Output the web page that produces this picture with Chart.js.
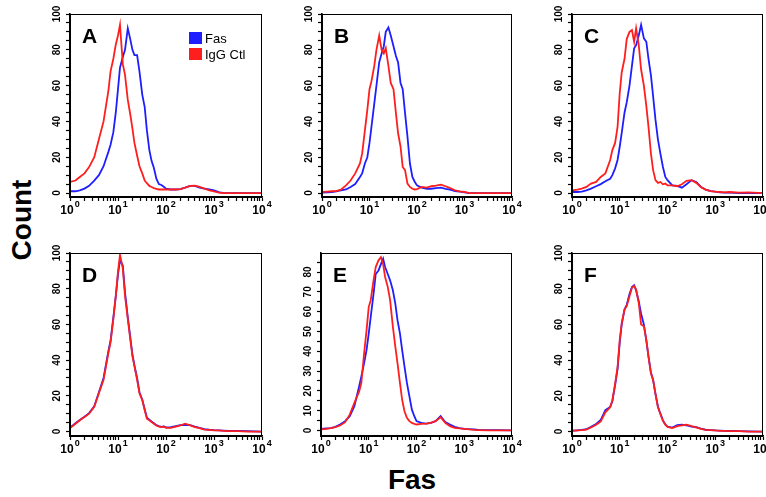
<!DOCTYPE html>
<html>
<head>
<meta charset="utf-8">
<script src="https://cdn.jsdelivr.net/npm/chart.js@4.4.0/dist/chart.umd.min.js"></script>
<style>
  html, body { margin: 0; padding: 0; background: #fff; width: 766px; height: 497px; overflow: hidden; }
  body { position: relative; font-family: "Liberation Sans", Arial, sans-serif; }
  canvas { position: absolute; }
  .axis-title { position: absolute; font-weight: bold; font-size: 28px; color: #000; white-space: nowrap; }
</style>
</head>
<body>
<div class="axis-title" style="left:22px;top:220px;transform:translate(-50%,-50%) rotate(-90deg);">Count</div>
<div class="axis-title" style="left:412px;top:480px;transform:translate(-50%,-50%);">Fas</div>
<script>
// fluorescence channels (x) shared by every histogram
const channels = [1, 1.3, 1.6, 2, 2.5, 3.2, 4, 5, 6.3, 7, 8, 9, 10, 11, 12.6, 14, 16, 18, 20, 22, 25, 28, 32, 36, 40, 45, 50, 56, 63, 71, 80, 90, 100, 126, 160, 200, 250, 320, 400, 500, 630, 800, 1000, 1260, 1600, 2000, 3200, 5000, 10000];

const fasA = [1, 1, 1.5, 2.5, 4, 7, 10, 15, 23, 27, 34, 45, 58, 70, 76, 80, 92, 86, 80, 77, 77, 68, 55, 48, 35, 24, 18, 14, 8, 5, 4.5, 3.5, 2.5, 2, 2, 2.2, 3, 4, 4, 3, 2.5, 2, 1.5, 0.5, 0, 0, 0, 0, 0];
const ctlA = [6.2, 7, 9, 11, 14.5, 20, 30, 40, 57, 68, 75, 83, 88, 94, 72, 66, 52, 44, 36, 28, 21, 15, 11, 7, 5.5, 4, 3.4, 2.8, 2.4, 2, 2, 2, 2, 2, 2, 2.2, 3, 4, 4.2, 3.4, 2.5, 1.5, 1, 0.3, 0, 0, 0, 0, 0];

const fasB = [0.2, 0.4, 0.6, 1, 1.5, 2, 3.4, 5, 9, 11, 16.5, 20, 28, 37, 50, 60, 73, 78, 82, 90, 92.5, 88, 82, 76.5, 73, 61.5, 58, 44.6, 31.5, 16.5, 9, 6.2, 4.3, 3, 2.4, 2.4, 2.8, 3, 2.4, 1.9, 1.1, 0.8, 0.4, 0, 0, 0, 0, 0, 0];
const ctlB = [0.6, 0.8, 1, 1.1, 1.9, 4.3, 7, 11, 16.5, 22, 35, 46.5, 58, 62.5, 71, 80, 88, 80, 78, 81, 71, 61.5, 58, 44.6, 33.4, 26, 14.6, 12.8, 5.3, 3.4, 2.4, 2, 2.2, 3.4, 3, 3.8, 4.1, 4.7, 3.8, 2.8, 1.5, 1, 0.6, 0, 0, 0, 0, 0, 0];

const fasC = [0.6, 0.6, 0.8, 1.5, 2.5, 3.8, 5, 6.6, 8, 10, 13.8, 18.5, 26, 33.6, 45, 50.6, 60, 71, 80.8, 82.6, 88, 94, 86.4, 84.5, 75, 65.7, 54, 41, 30, 22, 14.7, 9, 7.2, 4.3, 4, 3, 4.9, 7.2, 6.2, 3.4, 1.9, 1.1, 0.8, 0.4, 0.2, 0.2, 0, 0, 0];
const ctlC = [1.5, 1.9, 2.5, 3.4, 5.3, 6.2, 9, 11, 18.5, 24, 28, 37, 56, 67.5, 75, 86, 90, 91, 84.5, 92, 82.6, 69, 60, 48.7, 37, 22, 12.8, 7.2, 5.7, 6.2, 4.9, 5.3, 4.3, 4.3, 3.8, 4.9, 6.8, 7.2, 5.7, 3.4, 1.9, 1.1, 0.8, 0.6, 0.4, 0.6, 0.2, 0.4, 0];

const fasD = [2.2, 4.6, 6.5, 8.3, 10.3, 14.2, 22, 30, 45, 51, 64, 76, 88, 96, 93, 78, 64, 53, 43, 37, 30, 22, 18, 12.5, 7.8, 6.6, 5.6, 4.6, 3.6, 3, 2.6, 2.8, 2.3, 2.4, 3, 3.6, 3.8, 3.6, 2.8, 2.1, 1.3, 1, 0.8, 0.7, 0.5, 0.3, 0.3, 0.2, 0];
const ctlD = [1.9, 4.4, 6.3, 8.1, 10, 13.8, 21.4, 29, 44, 50, 63, 76, 89.6, 99, 91.3, 76, 63, 51.7, 42.2, 36.6, 29, 21.4, 17.6, 11.9, 7.2, 6.3, 5.3, 4.4, 3.4, 2.8, 2.5, 2.8, 2.1, 2.1, 2.8, 3.4, 4.4, 3.4, 2.5, 1.9, 1.1, 0.9, 0.6, 0.6, 0.4, 0.2, 0.2, 0, 0];

const fasE = [0.8, 1, 1.2, 1.8, 3, 4.7, 7.2, 12.2, 22.3, 27.3, 34, 40.7, 49, 57.4, 69, 79, 80.8, 84, 86.7, 82.5, 79, 75.8, 70.8, 64, 55.7, 49, 40.7, 32.3, 24, 17.2, 10.5, 7.2, 4.7, 3.8, 3.5, 3.8, 4.7, 7.2, 4.2, 3, 1.8, 1.2, 0.8, 0.7, 0.5, 0.3, 0.2, 0.2, 0];
const ctlE = [0.5, 0.8, 1.2, 1.7, 2.5, 4.2, 8, 13.9, 19.7, 24, 39, 50.7, 62.4, 65.8, 75.8, 82.5, 85.9, 87.5, 84, 77.5, 72.5, 65.8, 52.4, 42.3, 34, 24, 15.6, 9.7, 6.4, 4.7, 3.8, 3.3, 3, 3.3, 3.5, 3.8, 4.7, 6.7, 3.8, 2.2, 1.3, 1, 0.8, 0.5, 0.3, 0.2, 0, 0, 0];

const fasF = [0.5, 0.7, 0.9, 1.3, 2.6, 4.2, 6.5, 12, 13.8, 17, 26, 35, 50, 60, 68.5, 71, 77, 81, 82, 79, 73, 66, 60, 51, 42, 33, 29, 21, 14, 10, 6.4, 4, 2.8, 2.2, 3.6, 3.8, 3.4, 2.8, 2.4, 1.6, 1, 0.8, 0.6, 0.5, 0.4, 0.3, 0.2, 0.1, 0];
const ctlF = [0.4, 0.6, 0.8, 1.1, 2.3, 3.8, 5.7, 10.8, 13.6, 17.4, 26.8, 36.2, 51.3, 60.8, 68.3, 70.2, 75.8, 80.6, 81.5, 79.6, 72, 60, 59, 51.3, 41.9, 32.5, 28.7, 21.1, 13.6, 9.8, 6, 3.8, 2.6, 1.9, 3, 3.4, 3.8, 3, 2.3, 1.5, 0.9, 0.8, 0.6, 0.4, 0.4, 0.2, 0.2, 0, 0];

// tick labels
const decadePowers = [0, 1, 2, 3, 4];
const yLabels100 = [0, 20, 40, 60, 80, 100];
const yLabels90 = [0, 10, 20, 30, 40, 50, 60, 70, 80];
const seriesNames = ['Fas', 'IgG Ctl'];

const BLUE = '#1e1eff';
const RED = '#ff1e1e';
const FONT = '"Liberation Sans", Arial, sans-serif';

// minor ticks on the log axis: 1..9 in every decade
const xTickValues = [];
for (let p = 0; p < 4; p++) {
  for (let m = 1; m < 10; m++) xTickValues.push(m * Math.pow(10, p));
}
xTickValues.push(10000);

// plot area of each panel: left, top, right, bottom
const panels = [
  { letter: 'A', fas: fasA, ctl: ctlA, box: [70, 14, 262, 197], yMin: -2.2, yMax: 100, labels: yLabels100, legend: true },
  { letter: 'B', fas: fasB, ctl: ctlB, box: [322, 14, 512, 197], yMin: -2.2, yMax: 100, labels: yLabels100 },
  { letter: 'C', fas: fasC, ctl: ctlC, box: [572, 14, 763, 197], yMin: -2.2, yMax: 100, labels: yLabels100 },
  { letter: 'D', fas: fasD, ctl: ctlD, box: [70, 253, 262, 436], yMin: -2.5, yMax: 100, labels: yLabels100 },
  { letter: 'E', fas: fasE, ctl: ctlE, box: [321, 253, 512, 436], yMin: -2.8, yMax: 89.6, labels: yLabels90 },
  { letter: 'F', fas: fasF, ctl: ctlF, box: [572, 253, 763, 436], yMin: -2.5, yMax: 100, labels: yLabels100 }
];

const decorPlugin = {
  id: 'decor',
  afterDraw(chart, args, opts) {
    const { ctx, chartArea: a, scales } = chart;
    ctx.save();
    ctx.strokeStyle = '#000';
    ctx.lineWidth = 1;
    ctx.strokeRect(a.left + 0.5, a.top + 0.5, a.right - a.left - 1, a.bottom - a.top);
    ctx.fillStyle = '#000';

    // x tick labels 10^n
    decadePowers.forEach(p => {
      const x = scales.x.getPixelForValue(Math.pow(10, p));
      ctx.font = 'bold 12px ' + FONT;
      const w1 = ctx.measureText('10').width;
      ctx.font = 'bold 9px ' + FONT;
      const w2 = ctx.measureText(String(p)).width;
      const x0 = x - (w1 + w2 + 1) / 2;
      ctx.textAlign = 'left';
      ctx.textBaseline = 'alphabetic';
      ctx.font = 'bold 12px ' + FONT;
      ctx.fillText('10', x0, a.bottom + 17);
      ctx.font = 'bold 9px ' + FONT;
      ctx.fillText(String(p), x0 + w1 + 1, a.bottom + 10);
    });

    // y tick labels, rotated
    ctx.font = 'bold 10px ' + FONT;
    ctx.textAlign = 'center';
    ctx.textBaseline = 'middle';
    opts.labels.forEach(v => {
      const y = scales.y.getPixelForValue(v);
      ctx.save();
      ctx.translate(a.left - 13, y);
      ctx.rotate(-Math.PI / 2);
      ctx.fillText(String(v), 0, 0);
      ctx.restore();
    });

    // panel letter
    ctx.textAlign = 'left';
    ctx.textBaseline = 'alphabetic';
    ctx.font = 'bold 21px ' + FONT;
    ctx.fillText(opts.letter, a.left + 12, a.top + 29);

    if (opts.legend) {
      const colors = [BLUE, RED];
      ctx.font = '13px ' + FONT;
      seriesNames.forEach((name, i) => {
        const top = a.top + 18 + i * 16;
        ctx.fillStyle = colors[i];
        ctx.fillRect(a.left + 119, top, 13, 12);
        ctx.fillStyle = '#000';
        ctx.fillText(name, a.left + 135, top + 11);
      });
    }
    ctx.restore();
  }
};

panels.forEach(p => {
  const [l, t, r, b] = p.box;
  const canvas = document.createElement('canvas');
  const padRight = 12;
  const w = r - l + 30 + padRight;
  const h = b - t + 8 + 22;
  canvas.width = w;
  canvas.height = h;
  canvas.style.left = (l - 30) + 'px';
  canvas.style.top = (t - 8) + 'px';
  canvas.style.width = w + 'px';
  canvas.style.height = h + 'px';
  document.body.appendChild(canvas);

  const yTicks = [];
  for (let v = 0; v <= p.yMax; v += 5) yTicks.push(v);

  new Chart(canvas.getContext('2d'), {
    type: 'line',
    data: {
      datasets: [
        {
          label: seriesNames[1],
          data: channels.map((x, i) => ({ x: x, y: p.ctl[i] })),
          borderColor: RED,
          borderWidth: 1.8,
          order: 0
        },
        {
          label: seriesNames[0],
          data: channels.map((x, i) => ({ x: x, y: p.fas[i] })),
          borderColor: BLUE,
          borderWidth: 1.8,
          order: 1
        }
      ]
    },
    options: {
      responsive: false,
      animation: false,
      devicePixelRatio: 1,
      layout: { padding: { top: 8, right: padRight, left: 0, bottom: 0 } },
      elements: { point: { radius: 0 }, line: { tension: 0, fill: false } },
      plugins: {
        legend: { display: false },
        tooltip: { enabled: false },
        decor: { letter: p.letter, labels: p.labels, legend: !!p.legend }
      },
      scales: {
        x: {
          type: 'logarithmic',
          min: 1,
          max: 10000,
          afterBuildTicks: s => { s.ticks = xTickValues.map(v => ({ value: v })); },
          afterFit: s => { s.height = 22; },
          ticks: { display: false },
          grid: { drawOnChartArea: false, drawTicks: true, tickLength: 4, tickColor: '#000', tickWidth: 1.2 },
          border: { display: true, color: '#000', width: 1.6 }
        },
        y: {
          type: 'linear',
          min: p.yMin,
          max: p.yMax,
          afterBuildTicks: s => { s.ticks = yTicks.map(v => ({ value: v })); },
          afterFit: s => { s.width = 30; },
          ticks: { display: false },
          grid: { drawOnChartArea: false, drawTicks: true, tickLength: 4, tickColor: '#000', tickWidth: 1.2 },
          border: { display: true, color: '#000', width: 1.6 }
        }
      }
    },
    plugins: [decorPlugin]
  });
});
</script>
</body>
</html>
